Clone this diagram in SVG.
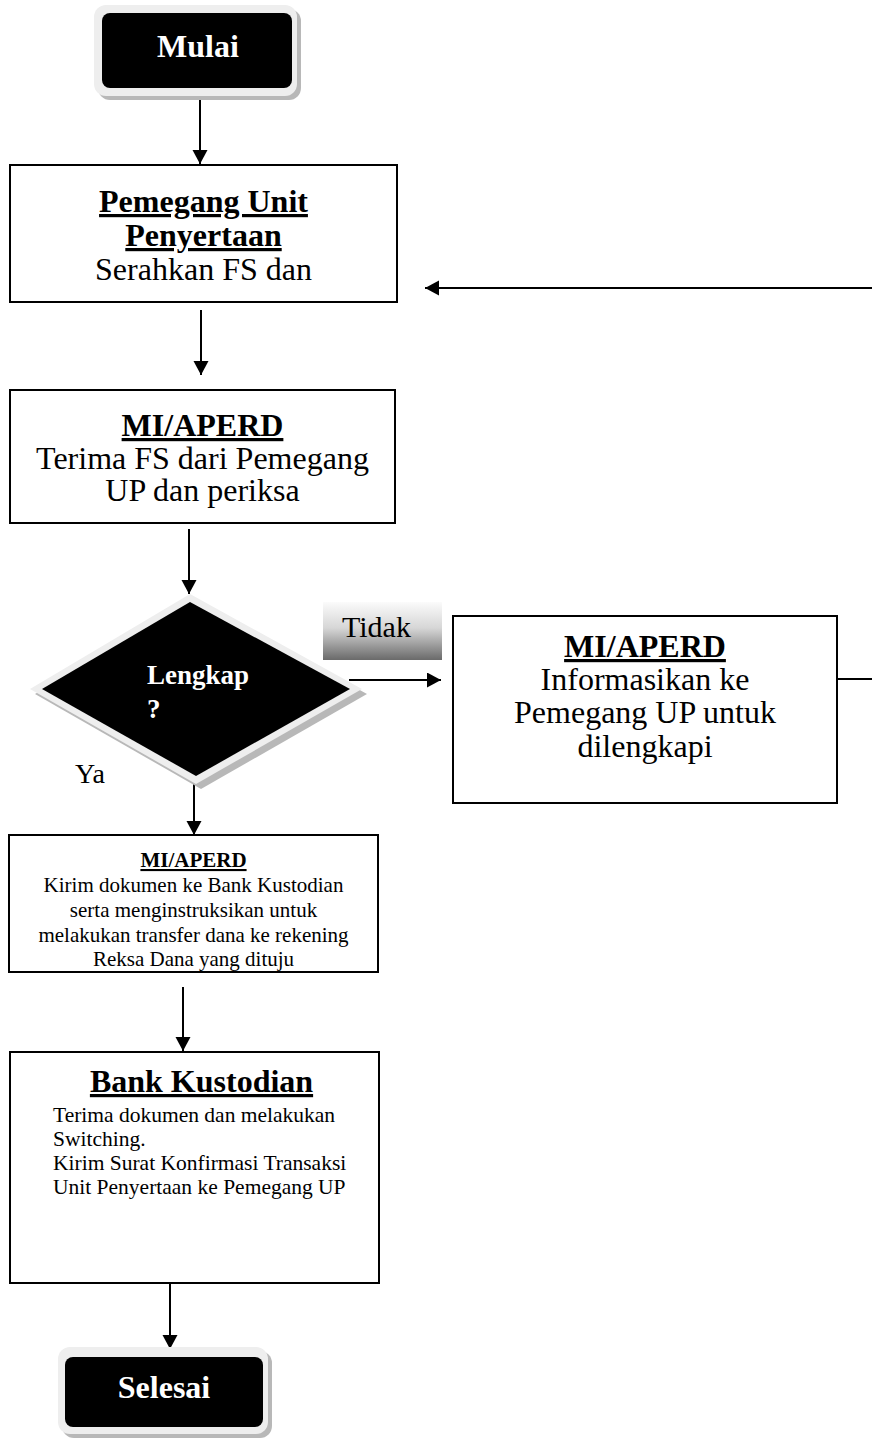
<svg xmlns="http://www.w3.org/2000/svg" width="872" height="1438" viewBox="0 0 872 1438">
<defs>
  <marker id="ah" markerUnits="userSpaceOnUse" markerWidth="16" markerHeight="16" refX="14" refY="7.5" orient="auto">
    <path d="M0,0 L14,7.5 L0,15 z" fill="#000"/>
  </marker>
  <linearGradient id="gTidak" x1="0" y1="0" x2="0" y2="1">
    <stop offset="0" stop-color="#fbfbfb"/>
    <stop offset="0.45" stop-color="#d6d6d6"/>
    <stop offset="1" stop-color="#6a6a6a"/>
  </linearGradient>
</defs>
<style>
  .box{fill:#fff;stroke:#000;stroke-width:2}
  .t{font-family:"Liberation Serif","Times New Roman",serif;fill:#000}
  .b{font-weight:bold}
  .u{text-decoration:underline}
  .w{fill:#fff;font-weight:bold}
  .c{text-anchor:middle}
  .s32{font-size:32px}
  .s21{font-size:21px}
  .shadow{fill:#b8b8b8}
  .light{fill:#eeeeee}
  .dark{fill:#000}
  .conn line{stroke:#000;stroke-width:2;fill:none}
</style>

<g id="connectors" class="conn">
  <line x1="200" y1="100" x2="200" y2="164" marker-end="url(#ah)"/>
  <line x1="872" y1="288" x2="425" y2="288" marker-end="url(#ah)"/>
  <line x1="201" y1="310" x2="201" y2="375" marker-end="url(#ah)"/>
  <line x1="189" y1="529" x2="189" y2="594" marker-end="url(#ah)"/>
  <line x1="349" y1="680" x2="441" y2="680" marker-end="url(#ah)"/>
  <line x1="837" y1="679" x2="872" y2="679"/>
  <line x1="194" y1="779" x2="194" y2="835" marker-end="url(#ah)"/>
  <line x1="183" y1="987" x2="183" y2="1051" marker-end="url(#ah)"/>
  <line x1="170" y1="1283" x2="170" y2="1349" marker-end="url(#ah)"/>
</g>

<g id="mulai">
  <rect class="shadow" x="98" y="9" width="203" height="91" rx="12"/>
  <rect class="light" x="94" y="5" width="203" height="91" rx="12"/>
  <rect class="dark" x="102" y="13" width="190" height="75" rx="8"/>
  <text class="t w c s32" x="198" y="57" font-size="31">Mulai</text>
</g>

<g id="pemegang">
  <rect class="box" x="10" y="165" width="387" height="137"/>
  <text class="t b u c s32" x="203.5" y="212">Pemegang Unit</text>
  <text class="t b u c s32" x="203.5" y="246">Penyertaan</text>
  <text class="t c s32" x="203.5" y="280">Serahkan FS dan</text>
</g>

<g id="terima">
  <rect class="box" x="10" y="390" width="385" height="133"/>
  <text class="t b u c s32" x="202.5" y="436">MI/APERD</text>
  <text class="t c s32" x="202.5" y="469">Terima FS dari Pemegang</text>
  <text class="t c s32" x="202.5" y="501">UP dan periksa</text>
</g>

<g id="lengkap">
  <polygon class="shadow" points="195,599 367,694 201,789 35,694"/>
  <polygon class="light" points="190,594 362,689 196,784 30,689"/>
  <polygon class="dark" points="190,602 350,689 196,776 42,689"/>
  <text class="t w" x="147" y="684" font-size="27">Lengkap</text>
  <text class="t w" x="147" y="718" font-size="27">?</text>
</g>

<g id="label-tidak">
  <rect x="323" y="602" width="119" height="58" fill="url(#gTidak)"/>
  <text class="t" x="342" y="637" font-size="30">Tidak</text>
</g>

<g id="label-ya">
  <text class="t" x="75" y="783" font-size="28">Ya</text>
</g>

<g id="informasikan">
  <rect class="box" x="453" y="616" width="384" height="187"/>
  <text class="t b u c s32" x="645" y="657">MI/APERD</text>
  <text class="t c s32" x="645" y="690">Informasikan ke</text>
  <text class="t c s32" x="645" y="723">Pemegang UP untuk</text>
  <text class="t c s32" x="645" y="757">dilengkapi</text>
</g>

<g id="kirim">
  <rect class="box" x="9" y="835" width="369" height="137"/>
  <text class="t b u c s21" x="193.5" y="867">MI/APERD</text>
  <text class="t c s21" x="193.5" y="892">Kirim dokumen ke Bank Kustodian</text>
  <text class="t c s21" x="193.5" y="917">serta menginstruksikan untuk</text>
  <text class="t c s21" x="193.5" y="942">melakukan transfer dana ke rekening</text>
  <text class="t c s21" x="193.5" y="966">Reksa Dana yang dituju</text>
</g>

<g id="bank-kustodian">
  <rect class="box" x="10" y="1052" width="369" height="231"/>
  <text class="t b u c s32" x="201.5" y="1092">Bank Kustodian</text>
  <text class="t" x="53" y="1122" font-size="21.5">Terima dokumen dan melakukan</text>
  <text class="t" x="53" y="1146" font-size="21.5">Switching.</text>
  <text class="t" x="53" y="1170" font-size="21.5">Kirim Surat Konfirmasi Transaksi</text>
  <text class="t" x="53" y="1194" font-size="21.5">Unit Penyertaan ke Pemegang UP</text>
</g>

<g id="selesai">
  <rect class="shadow" x="62" y="1351" width="210" height="87" rx="12"/>
  <rect class="light" x="58" y="1347" width="210" height="87" rx="12"/>
  <rect class="dark" x="65" y="1357" width="198" height="70" rx="8"/>
  <text class="t w c s32" x="164" y="1398">Selesai</text>
</g>
</svg>
